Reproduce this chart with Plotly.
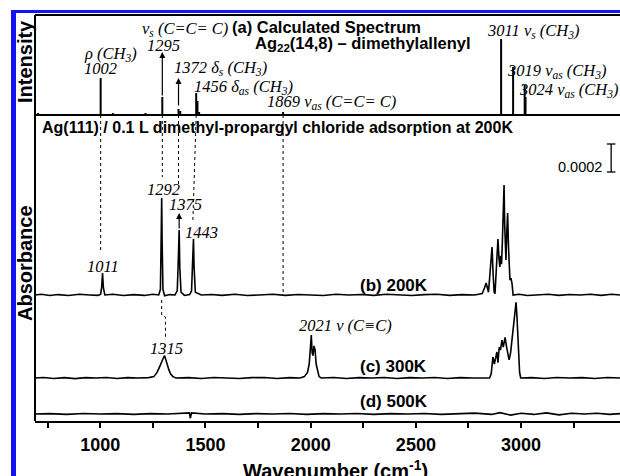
import plotly.graph_objects as go

# ---------------- data ----------------
# (a) calculated stick spectrum, Ag22(14,8)-dimethylallenyl (arbitrary intensity)
calc_wavenumber = [705, 1002, 1060, 1215, 1295, 1372, 1380, 1456, 1462, 1470, 1869, 2905, 2962, 3017, 3021]
calc_intensity = [2, 37, 2, 2, 18, 6, 4, 22, 14, 3, 3, 76, 48, 30, 18]
# arrows drawn on top of calculated peaks
calc_arrow_wavenumber = [1295, 1372]
calc_arrow_from = [18, 8]
calc_arrow_to = [63, 37]

# measured IRAS spectra, absorbance in units of 1e-4, relative to each trace baseline
spec_b = [(690, 0), (720, 0.05), (760, -0.04), (800, 0.03), (850, -0.04), (900, 0.05), (950, 0), (990, -0.03),
          (1002, 0.05), (1007, 0.6), (1011, 1.57), (1015, 0.5), (1022, 0), (1060, 0.05), (1110, -0.04),
          (1160, 0.03), (1210, -0.03), (1250, 0.05), (1278, 0), (1286, 0.4), (1290, 4.5), (1292, 6.93),
          (1294, 4.0), (1298, 0.4), (1306, -0.05), (1330, 0.03), (1355, 0), (1366, 0.3), (1371, 2.5),
          (1375, 4.64), (1378, 2.0), (1384, 0.2), (1400, -0.03), (1425, 0.03), (1434, 0.3), (1439, 2.0),
          (1443, 4.0), (1446, 2.0), (1452, 0.2), (1480, 0), (1530, 0.04), (1580, -0.03), (1640, 0.05),
          (1700, -0.04), (1760, 0.03), (1820, 0.05), (1880, -0.03), (1940, 0.04), (2000, 0), (2060, -0.04),
          (2120, 0.05), (2180, 0), (2240, 0.04), (2300, -0.03), (2360, 0.05), (2420, 0), (2480, -0.04),
          (2540, 0.03), (2600, 0.05), (2660, -0.03), (2720, 0.03), (2780, 0), (2815, 0.1), (2826, 0.5),
          (2834, 0.86), (2840, 0.5), (2845, 0.2), (2852, 1.5), (2857, 2.8), (2862, 3.43), (2867, 1.5),
          (2872, 0.2), (2876, 0.1), (2881, 1.8), (2886, 3.3), (2890, 4.0), (2895, 2.6), (2899, 2.0),
          (2903, 2.8), (2907, 2.2), (2911, 3.8), (2915, 5.5), (2919, 7.86), (2922, 5.0), (2925, 3.0),
          (2928, 2.5), (2932, 4.5), (2936, 5.86), (2940, 3.5), (2944, 1.8), (2947, 1.07), (2952, 1.2),
          (2957, 0.8), (2962, 0), (2990, 0.05), (3030, -0.04), (3080, 0.03), (3130, 0.05), (3180, -0.03),
          (3230, 0.04), (3280, 0), (3330, 0.05), (3380, -0.03), (3430, 0.05), (3470, 0)]

spec_c = [(690, 0), (730, 0.04), (780, -0.03), (830, 0.03), (880, -0.04), (930, 0.03), (980, 0), (1030, 0.04),
          (1080, -0.03), (1130, 0.03), (1180, 0), (1230, 0.03), (1255, 0.1), (1270, 0.4), (1282, 0.8),
          (1292, 1.2), (1298, 1.3), (1302, 1.5), (1306, 1.6), (1310, 1.4), (1315, 1.2), (1320, 0.8),
          (1326, 0.6), (1334, 0.3), (1345, 0.1), (1360, 0), (1420, 0.03), (1480, -0.03), (1540, 0.04),
          (1600, 0), (1660, -0.03), (1720, 0.03), (1780, 0.04), (1840, -0.03), (1900, 0.03), (1950, 0),
          (1970, 0.1), (1985, 0.4), (1993, 1.0), (1998, 2.0), (2003, 3.07), (2007, 1.8), (2011, 1.6),
          (2016, 2.3), (2021, 2.0), (2026, 1.0), (2033, 0.4), (2040, 0.1), (2050, 0), (2110, 0.04),
          (2170, -0.03), (2230, 0.03), (2290, 0), (2350, 0.04), (2410, -0.03), (2470, 0.03), (2530, 0),
          (2590, 0.04), (2650, -0.03), (2710, 0.03), (2770, 0), (2820, 0.03), (2850, 0), (2858, 0.3),
          (2866, 1.5), (2873, 1.0), (2880, 1.5), (2885, 1.86), (2890, 1.1), (2896, 2.2), (2902, 2.0),
          (2909, 2.7), (2915, 2.2), (2920, 2.6), (2924, 2.9), (2930, 2.3), (2937, 1.8), (2943, 1.3),
          (2950, 1.8), (2958, 2.8), (2966, 4.0), (2972, 5.0), (2976, 5.4), (2980, 4.5), (2984, 3.0),
          (2988, 1.5), (2993, 0.4), (2998, 0), (3050, 0.03), (3110, -0.03), (3170, 0.04), (3230, 0),
          (3290, 0.03), (3350, -0.03), (3410, 0.04), (3470, 0)]

spec_d = [(690, 0), (760, 0.03), (840, -0.03), (920, 0.04), (1000, 0), (1080, 0.03), (1160, -0.03),
          (1240, 0.03), (1320, 0), (1400, 0.04), (1424, 0.08), (1428, -0.3), (1434, 0.08), (1500, 0),
          (1580, 0.03), (1660, -0.03), (1740, 0.03), (1820, 0), (1900, 0.04), (1980, -0.03), (2060, 0.03),
          (2140, 0), (2220, 0.04), (2300, -0.03), (2380, 0.03), (2460, 0), (2540, 0.04), (2620, -0.03),
          (2700, 0.03), (2780, 0.06), (2860, -0.03), (2900, 0.1), (2950, -0.08), (3000, 0.05), (3060, -0.03),
          (3120, 0.08), (3180, -0.06), (3240, 0.05), (3300, 0), (3360, 0.05), (3420, -0.03), (3470, 0.03)]

spectrum_names = ["(b) 200K", "(c) 300K", "(d) 500K"]

# peak labels (wavenumbers)
calc_labels = ["ρ (CH<sub>3</sub>)", "1002", "ν<sub>s</sub> (C=C= C)", "1295",
               "1372 δ<sub>s</sub> (CH<sub>3</sub>)", "1456 δ<sub>as</sub> (CH<sub>3</sub>)",
               "1869 ν<sub>as</sub> (C=C= C)", "3011 ν<sub>s</sub> (CH<sub>3</sub>)",
               "3019 ν<sub>as</sub> (CH<sub>3</sub>)", "3024 ν<sub>as</sub> (CH<sub>3</sub>)"]
meas_labels = ["1011", "1292", "1375", "1443", "1315", "2021 ν (C≡C)"]

# dotted correlation guides: calculated -> measured (200K), absorbance 1e-4 units
guide_top_wavenumber = [1002, 1295, 1372, 1456, 1869]
guide_bottom_wavenumber = [1002, 1295, 1372, 1440, 1869]
guide_bottom_level = [12.07, 17.43, 16.71, 14.21, 9.21]
guide_bc_wavenumber = [1292, 1292, 1310, 1310]
guide_bc_level = [8.64, 7.57, 7.43, 5.79]

# arrow above 1375 in (b)
meas_arrow = (1375, 13.64, 14.86)

scale_bar_value = 2.0  # = 0.0002 absorbance

x_ticks = [1000, 1500, 2000, 2500, 3000]
x_minor_ticks = [750, 1250, 1750, 2250, 2750, 3250]

# ---------------- layout geometry ----------------
W, H = 620, 476
L, R, T, B = 35, 620, 15, 421
DIV = 115
ABS = 1e-4
X_RANGE = [690, 3470]
PXU = 2.0 / 28.0                       # 1e-4 absorbance units per pixel
Y_TOP = (B - DIV) * PXU
OFFSETS = [9.0, 3.07, 0.5]
d = (B - DIV) / (B - T)


def paper(px, py):
    return (px - L) / (R - L), (B - py) / (B - T)


fig = go.Figure()

# stick spectrum
sx, sy = [], []
for w, i in zip(calc_wavenumber, calc_intensity):
    sx += [w, w, None]
    sy += [0, i, None]
fig.add_trace(go.Scatter(x=sx, y=sy, mode="lines", xaxis="x", yaxis="y2",
                         line=dict(color="black", width=2), showlegend=False, hoverinfo="skip"))

# measured spectra
for spec, off in zip([spec_b, spec_c, spec_d], OFFSETS):
    fig.add_trace(go.Scatter(x=[p[0] for p in spec], y=[(p[1] + off) * ABS for p in spec],
                             mode="lines", line=dict(color="black", width=1.6),
                             showlegend=False, hoverinfo="skip"))

# dotted guides
gx, gy = [], []
for wt, wb, lv in zip(guide_top_wavenumber, guide_bottom_wavenumber, guide_bottom_level):
    gx += [wt, wb, None]
    gy += [Y_TOP * ABS, lv * ABS, None]
gx += [None] + guide_bc_wavenumber
gy += [None] + [v * ABS for v in guide_bc_level]
fig.add_trace(go.Scatter(x=gx, y=gy, mode="lines", line=dict(color="black", width=1, dash="dot"),
                         showlegend=False, hoverinfo="skip"))

# scale bar
sb_x = 3428
sb_lo = (B - 172) * PXU
fig.add_trace(go.Scatter(x=[sb_x, sb_x, None, sb_x - 20, sb_x + 20, None, sb_x - 20, sb_x + 20],
                         y=[sb_lo * ABS, (sb_lo + scale_bar_value) * ABS, None,
                            sb_lo * ABS, sb_lo * ABS, None,
                            (sb_lo + scale_bar_value) * ABS, (sb_lo + scale_bar_value) * ABS],
                         mode="lines", line=dict(color="black", width=1.3), showlegend=False, hoverinfo="skip"))

ann = []
# arrows in top panel
for w, a0, a1 in zip(calc_arrow_wavenumber, calc_arrow_from, calc_arrow_to):
    ann.append(dict(x=w, y=a1, ax=w, ay=a0, xref="x", yref="y2", axref="x", ayref="y2", text="",
                    showarrow=True, arrowhead=2, arrowsize=1, arrowwidth=1.2, arrowcolor="black"))
ann.append(dict(x=meas_arrow[0], y=(meas_arrow[2]) * ABS, ax=meas_arrow[0], ay=meas_arrow[1] * ABS,
                xref="x", yref="y", axref="x", ayref="y", text="", showarrow=True, arrowhead=2,
                arrowsize=1, arrowwidth=1.2, arrowcolor="black"))

SERIF = dict(family="Liberation Serif", size=16.5, color="black")
SANS_B = dict(family="Liberation Sans", color="black", weight="bold")


def label(text, px, py, font, xanchor="left", angle=0):
    x, y = paper(px, py)
    ann.append(dict(x=x, y=y, xref="paper", yref="paper", text=text, showarrow=False,
                    xanchor=xanchor, yanchor="middle", font=font, textangle=angle))


calc_label_pos = [(82, 54), (82, 69), (140, 29), (145, 45), (172, 68), (192, 87), (265, 102),
                  (485, 31), (505, 71), (517, 90)]
for t, (px, py) in zip(calc_labels, calc_label_pos):
    label("<i>" + t + "</i>", px, py, SERIF)
meas_label_pos = [(85, 266), (145, 189), (167, 204), (183, 232), (148, 348), (297, 325)]
for t, (px, py) in zip(meas_labels, meas_label_pos):
    label("<i>" + t + "</i>", px, py, SERIF)

label("(a) Calculated Spectrum", 230, 27, dict(SANS_B, size=16.5))
label("Ag<sub>22</sub>(14,8) – dimethylallenyl", 253, 44, dict(SANS_B, size=16.5))
label("Ag(111) / 0.1 L dimethyl-propargyl chloride adsorption at 200K", 40, 127, dict(SANS_B, size=16))
for t, py in zip(spectrum_names, [285, 366, 401]):
    label(t, 358, py, dict(SANS_B, size=17))
label("0.0002", 604, 167, dict(family="Liberation Sans", size=14.5, color="black"), xanchor="right")

label("Intensity", 25, 62, dict(SANS_B, size=20), xanchor="center", angle=-90)
label("Absorbance", 25, 263, dict(SANS_B, size=20), xanchor="center", angle=-90)
label("Wavenumber (cm<sup>-1</sup>)", 336, 469, dict(SANS_B, size=20), xanchor="center")

# frame / decorations
shapes = []
x0p, _ = paper(11, 0)
x1p, _ = paper(16, 0)
_, y0p = paper(0, 476)
_, y1p = paper(0, 10)
_, y2p = paper(0, 13)
shapes.append(dict(type="rect", xref="paper", yref="paper", x0=x0p, x1=x1p, y0=y0p, y1=y1p,
                   fillcolor="#1414F0", line=dict(width=0)))
shapes.append(dict(type="rect", xref="paper", yref="paper", x0=x0p, x1=1.0, y0=y2p, y1=y1p,
                   fillcolor="#1414F0", line=dict(width=0)))
shapes.append(dict(type="line", xref="paper", yref="paper", x0=0, x1=1, y0=d, y1=d,
                   line=dict(color="black", width=2)))
shapes.append(dict(type="line", xref="paper", yref="paper", x0=0, x1=1, y0=1, y1=1,
                   line=dict(color="black", width=2)))
shapes.append(dict(type="line", xref="paper", yref="paper", x0=0, x1=0, y0=0, y1=1,
                   line=dict(color="black", width=2)))

fig.update_layout(
    width=W, height=H, margin=dict(l=L, r=W - R, t=T, b=H - B),
    paper_bgcolor="white", plot_bgcolor="white", showlegend=False,
    xaxis=dict(range=X_RANGE, domain=[0, 1], anchor="y", showline=True, linewidth=2, linecolor="black",
               ticks="outside", ticklen=5, tickwidth=1.5, tickcolor="black", tickvals=x_ticks,
               tickfont=dict(family="Liberation Sans", size=18, color="black", weight="bold"),
               minor=dict(tickvals=x_minor_ticks, ticks="outside", ticklen=5, tickwidth=1.5,
                          tickcolor="black"),
               showgrid=False, zeroline=False, ticklabelstandoff=1),
    yaxis=dict(domain=[0, d], range=[0, Y_TOP * ABS], visible=False),
    yaxis2=dict(domain=[d, 1], anchor="x", range=[0, 100], visible=False),
    annotations=ann, shapes=shapes,
)

fig.write_html("out.html", config={"displayModeBar": False},
               post_script="document.body.style.margin='0px';document.body.style.overflow='hidden';")
